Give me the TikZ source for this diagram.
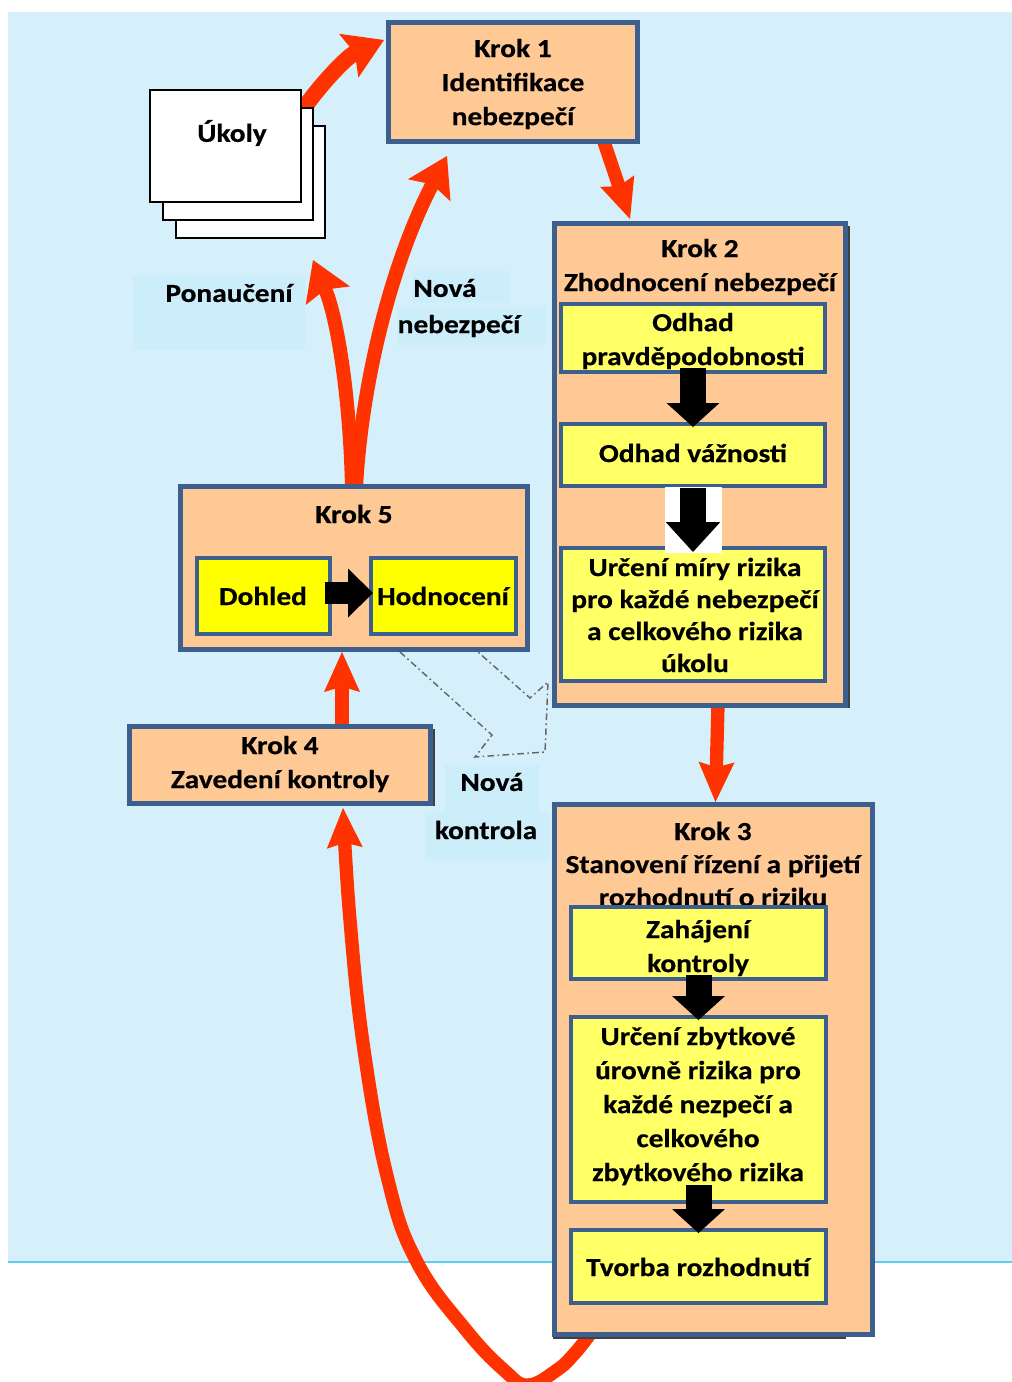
\documentclass[tikz,border=0pt]{standalone}
\usepackage{fontspec}
\setmainfont{Carlito}[BoldFeatures={FakeStretch=1.13,FakeBold=0.5}]
\usetikzlibrary{arrows.meta,calc,fit}
\definecolor{bgblue}{HTML}{D6F0FB}
\definecolor{lblblue}{HTML}{CCEDFA}
\definecolor{edge}{HTML}{3C5F8D}
\definecolor{peach}{HTML}{FFC996}
\definecolor{ylw}{HTML}{FFFF66}
\definecolor{ylwb}{HTML}{FFFF00}
\definecolor{redar}{HTML}{FF3300}
\definecolor{sepline}{HTML}{5FCBF0}
\pgfdeclarelayer{back}\pgfdeclarelayer{mid}\pgfsetlayers{back,mid,main}
\tikzset{
  bigbox/.style={draw=edge, line width=3.75pt, fill=peach, inner sep=0pt},
  smallbox/.style={draw=edge, line width=3pt, fill=ylw, inner sep=0pt},
  page/.style={draw=black, line width=1.1pt, fill=white, inner sep=0pt},
  txt/.style={font=\bfseries\fontsize{19.5}{25.5}\selectfont, align=center, inner sep=0pt},
  redarrow/.style={draw=redar, line width=10pt, -{Stealth[width=27pt,length=30pt,inset=4pt,line width=0pt]}},
  redcurve/.style={draw=redar, line width=10.5pt, -{Stealth[width=36pt,length=29pt,inset=5pt,line width=0pt]}},
  blkarrow/.style={draw=black, line width=19.5pt, -{Triangle[width=39.75pt,length=18pt,line width=0pt]}},
  dashctl/.style={draw=black!60, line width=1.1pt, dash pattern=on 5pt off 2.5pt on 1.2pt off 2.5pt},
  shadowline/.style={draw=black!75, line width=1pt},
}
\begin{document}
\begin{tikzpicture}[x=0.75pt,y=-0.75pt]
\useasboundingbox (0,0) rectangle (1012,1382);
\begin{pgfonlayer}{back}
  \fill[bgblue] (8,12) rectangle (1012,1262);
  \draw[sepline, line width=1.5pt] (8,1262) -- (1012,1262);
  \fill[lblblue] (133,275) rectangle (305,350);
  \fill[lblblue] (412,271) rectangle (510,303);
  \fill[lblblue] (397,307) rectangle (546,345);
  \fill[lblblue] (445,765) rectangle (539,812);
  \fill[lblblue] (425,812) rectangle (550,860);
\end{pgfonlayer}

% Krok 1 and tasks
\node[bigbox, fit={(388.5,22.5) (637.5,141.5)}] (k1) {};
\node[txt] (t1) at (513,84) {Krok 1\\Identifikace\\nebezpečí};
\node[page, fit={(176,126) (325,238)}] (pg3) {};
\node[page, fit={(163,108) (313,220)}] (pg2) {};
\node[page, fit={(150,90) (301,202)}] (uk) {};
\node[txt] (tuk) at (232,133) {Úkoly};

% Krok 2
\draw[shadowline] (849,226) -- (849,708);
\node[bigbox, fit={(554.5,223.5) (845.5,705.5)}] (k2) {};
\node[txt] (t2) at (700,267) {Krok 2\\Zhodnocení nebezpečí};
\node[smallbox, fit={(561,304) (825,372)}] (odh) {};
\node[txt] (todh) at (693,341) {Odhad\\pravděpodobnosti};
\node[smallbox, fit={(561,424) (825,486)}] (vaz) {};
\node[txt] (tvaz) at (693,453) {Odhad vážnosti};
\node[smallbox, fit={(561,548) (825,681)}] (mira) {};
\node[txt, font=\bfseries\fontsize{19.5}{24}\selectfont] (tmira) at (695,615) {Určení míry rizika\\pro každé nebezpečí\\a celkového rizika\\úkolu};

% Krok 3
\draw[shadowline] (553,1338) -- (846,1338);
\node[bigbox, fit={(554.5,804.5) (872.5,1334.5)}] (k3) {};
\node[txt, font=\bfseries\fontsize{19.5}{24.75}\selectfont] (t3) at (713,864) {Krok 3\\Stanovení řízení a přijetí\\rozhodnutí o riziku};
\node[smallbox, fit={(571,907) (826,979)}] (zah) {};
\node[txt] (tzah) at (698,948) {Zahájení\\kontroly};
\node[smallbox, fit={(571,1017) (826,1202)}] (zbyt) {};
\node[txt] (tzbyt) at (698,1106) {Určení zbytkové\\úrovně rizika pro\\každé nezpečí a\\celkového\\zbytkového rizika};
\node[smallbox, fit={(571,1230) (826,1303)}] (tvo) {};
\node[txt] (ttvo) at (698,1267) {Tvorba rozhodnutí};

% Krok 5
\node[bigbox, fit={(180.5,486.5) (527.5,649.5)}] (k5) {};
\node[txt] (t5) at (354,514) {Krok 5};
\node[smallbox, fill=ylwb, fit={(197,558) (330,634)}] (doh) {};
\node[txt] (tdoh) at (263,596) {Dohled};
\node[smallbox, fill=ylwb, fit={(371,558) (516,634)}] (hod) {};
\node[txt] (thod) at (443,596) {Hodnocení};

% Krok 4
\draw[shadowline] (434,729) -- (434,806);
\node[bigbox, fit={(129.5,726.5) (430.5,803.5)}] (k4) {};
\node[txt] (t4) at (280,764) {Krok 4\\Zavedení kontroly};

% labels
\node[txt] (tpon) at (229,293) {Ponaučení};
\node[txt] (tnn1) at (445,288) {Nová};
\node[txt] (tnn2) at (459,326) {nebezpečí};
\node[txt] (tnk1) at (492,782) {Nová};
\node[txt] (tnk2) at (486,830) {kontrola};
\coordinate (pon) at (313,260);
\coordinate (loopstart) at ($(k3.south west)+(38,-3)$);
\coordinate (loopend) at ($(k4.south)+(63,2)$);

% red arrows
\begin{pgfonlayer}{mid}
  \draw[redcurve, line width=12pt] ($(uk.north east)+(0,22)$) .. controls (322,82) and (348,56) .. ($(k1.west)+(-2,-42)$);
  \draw[redarrow] ($(k1.south east)+(-37,-5)$) -- ($(k2.north west)+(78,-2)$);
  \draw[redarrow] ($(k2.south)+(18,-3)$) -- ($(k3.north)+(2,0)$);
  \draw[redarrow] ($(k4.north)+(62,3)$) -- ($(k5.south)+(-12,0)$);
  \draw[redcurve] ($(k5.north)+(-2,3)$) .. controls (350,400) and (338,320) .. (pon);
  \draw[redcurve] ($(k5.north)+(2,3)$) .. controls (362,380) and (392,262) .. ($(k1.south)+(-66,12)$);
  \draw[redarrow] plot[smooth, tension=0.7] coordinates {(loopstart) (575,1353) (557,1370) (528,1385) (505,1371)
     (466,1330) (417,1262) (388,1180) (364,1050) (350,920) (loopend)};
  \draw[dashctl] (400,652) -- (492,735) -- (475,757) -- (545,752) -- (548,682) -- (530,698) -- (478,652);
\end{pgfonlayer}

% black arrows
\draw[blkarrow] ($(odh.south)+(0,-6)$) -- ($(vaz.north)+(0,5)$);
\fill[white] (665,487) rectangle (722,553);
\draw[blkarrow, -{Triangle[width=41pt,length=22.5pt,line width=0pt]}] (vaz.south) -- ($(mira.north)+(0,6)$);
\draw[blkarrow] ($(zah.south)+(0,-6)$) -- ($(zbyt.north)+(0,5)$);
\draw[blkarrow] ($(zbyt.south)+(0,-19)$) -- ($(tvo.north)+(0,5)$);
\draw[blkarrow, line width=16.5pt, -{Triangle[width=36.75pt,length=18.75pt,line width=0pt]}] ($(doh.east)+(-7,-3)$) -- ($(hod.west)+(4,-3)$);
\end{tikzpicture}
\end{document}
